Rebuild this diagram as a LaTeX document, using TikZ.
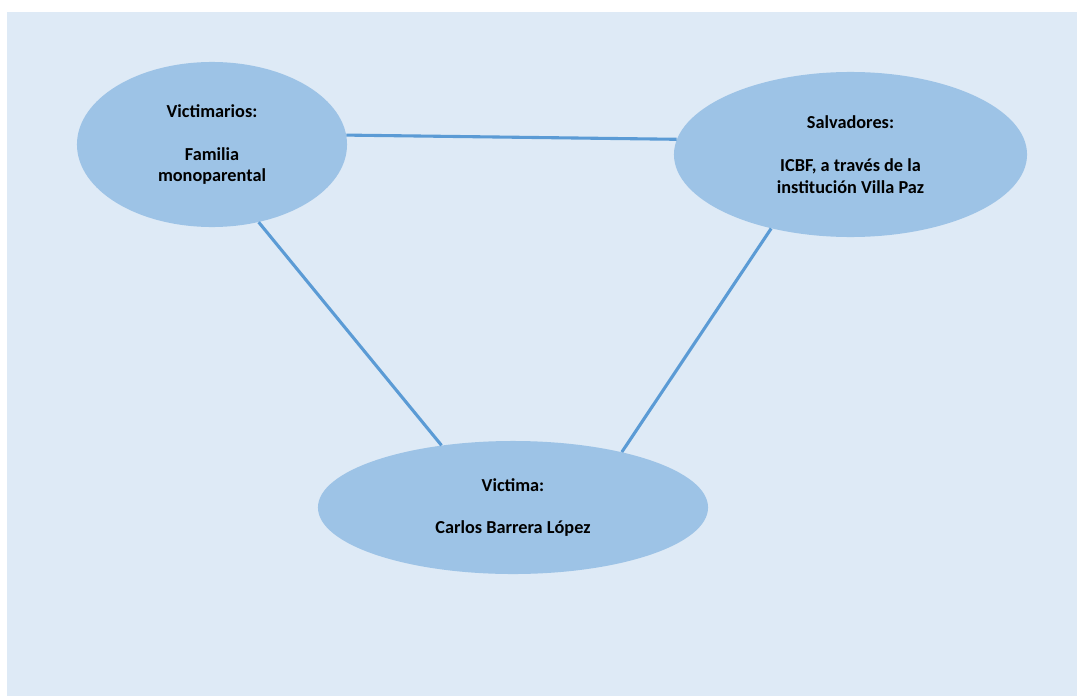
\documentclass[tikz,border=0pt]{standalone}
\usepackage{fontspec}
\setmainfont{Carlito}
\usepackage{xcolor}
\usepackage{tikz}
\usetikzlibrary{shapes.geometric}

\definecolor{pagebg}{HTML}{DEEAF6}
\definecolor{roleblue}{HTML}{9DC3E6}
\definecolor{linkblue}{HTML}{5B9BD5}

\begin{document}
\begin{tikzpicture}[x=0.025cm,y=-0.025cm]
\tikzstyle{role}=[ellipse,fill=roleblue,inner sep=0pt,align=center,
	font=\bfseries\fontsize{13}{15.5}\selectfont];
\tikzstyle{link}=[draw=linkblue,line width=2.2pt];

\useasboundingbox (0,0) rectangle (1077,696);
\fill[pagebg] (7,12) rectangle (1077,696); %page

\node[role,minimum width=6.75cm,minimum height=4.125cm] (victimarios) at (212,144.5)
	{Victimarios:\\[15pt]Familia\\monoparental};
\node[role,minimum width=8.825cm,minimum height=4.125cm] (salvadores) at (850.5,154.5)
	{Salvadores:\\[15pt]ICBF, a través de la\\institución Villa Paz};
\node[role,minimum width=9.75cm,minimum height=3.325cm] (victima) at (513,507.5)
	{Victima:\\[15pt]Carlos Barrera López};

	\draw[link] (victimarios.4) -- (salvadores.175.3);
	\draw[link] (victimarios.-59.6) -- (victima.139.6);
	\draw[link] (salvadores.-137.2) -- (victima.27.8);
\end{tikzpicture}
\end{document}
